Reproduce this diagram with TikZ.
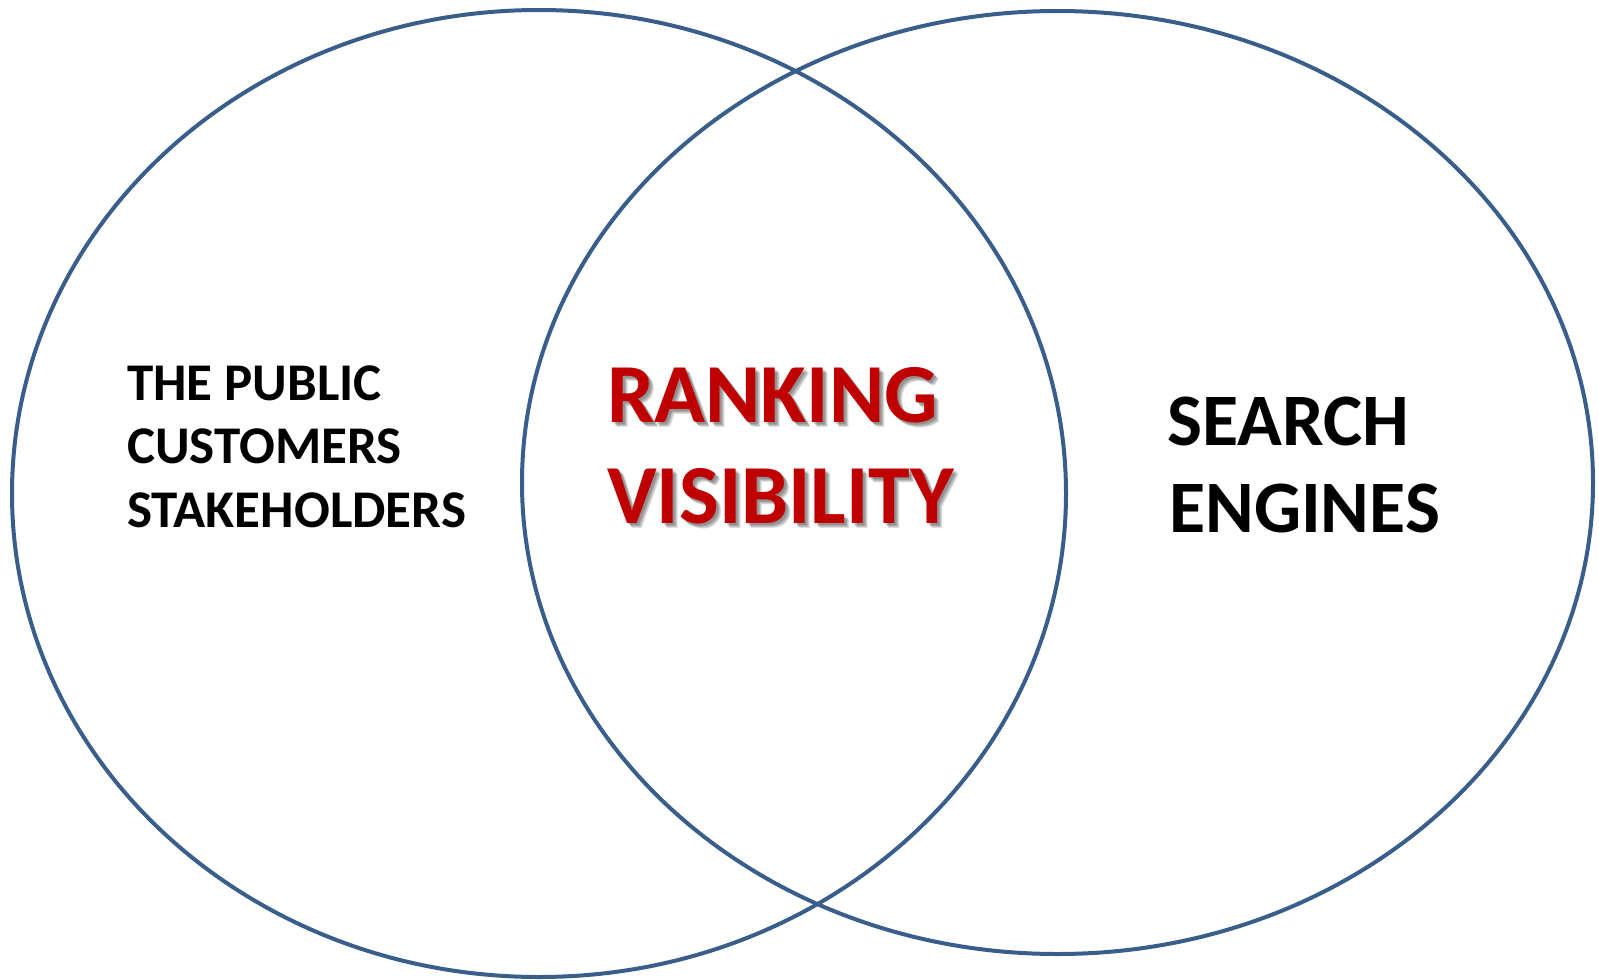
\documentclass[tikz,border=0pt]{standalone}
\usepackage{fontspec}
\setmainfont{Carlito}
\definecolor{ringblue}{HTML}{3A5E8C}
\definecolor{rankred}{HTML}{C00000}
\begin{document}
\begin{tikzpicture}[x=1pt,y=-1pt,
  ring/.style={draw=ringblue,line width=4pt},
  sidetext/.style={inner sep=0pt,anchor=base west,text=black,font=\bfseries\fontsize{53}{64}\selectfont},
  bigtext/.style={inner sep=0pt,anchor=base west,text=black,font=\bfseries\fontsize{74}{88}\selectfont},
  redtext/.style={inner sep=0pt,anchor=base west,text=rankred,font=\bfseries\fontsize{84}{100}\selectfont},
  shade/.style={inner sep=0pt,anchor=base west,text=black,opacity=0.13,font=\bfseries\fontsize{84}{100}\selectfont}]
\useasboundingbox (0,0) rectangle (1599,980);
\fill[white] (0,0) rectangle (1599,980);
% two overlapping sets
\draw[ring] (539,493.5) ellipse [x radius=527pt, y radius=483.5pt];
\draw[ring] (1057.5,482.5) ellipse [x radius=535.5pt, y radius=471.5pt];
% left set
\node[sidetext] (pub) at (127,400) {THE PUBLIC};
\node[sidetext] (cus) at (127,463) {CUSTOMERS};
\node[sidetext] (stk) at (127,527) {STAKEHOLDERS};
% right set
\node[bigtext] (sea) at (1167,445) {SEARCH};
\node[bigtext] (eng) at (1169,532) {ENGINES};
% overlap, with a soft drop shadow
\foreach \d in {2,3,4,5}{
  \node[shade] at (607+\d,422+\d) {RANKING};
  \node[shade] at (607+\d,523+\d) {VISIBILITY};
}
\node[redtext] (rnk) at (607,422) {RANKING};
\node[redtext] (vis) at (607,523) {VISIBILITY};
\end{tikzpicture}
\end{document}
